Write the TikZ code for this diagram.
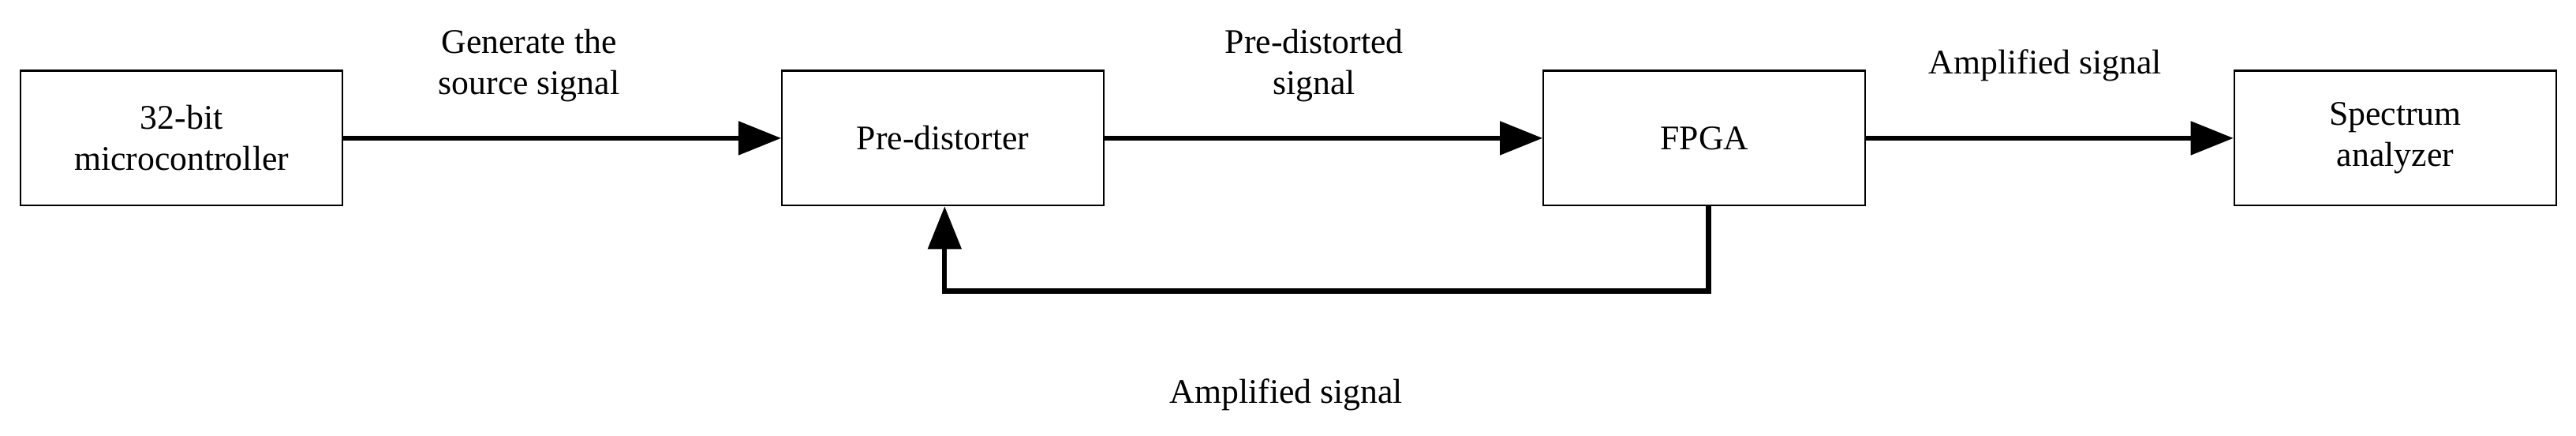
\documentclass[tikz,border=0pt]{standalone}
\usepackage{fontspec}
\setmainfont{Liberation Serif}
\usetikzlibrary{arrows.meta}
\begin{document}
\begin{tikzpicture}[x=1pt,y=-1pt,
  box/.style={draw,line width=1pt,minimum width=196pt,minimum height=82pt,align=center,font=\fontsize{21}{25}\selectfont},
  lab/.style={align=center,font=\fontsize{21}{25}\selectfont},
  arr/.style={line width=3pt,-{Triangle[length=26pt,width=20pt]}}]
\useasboundingbox (0,0) rectangle (1568,265);
\node[box] (a) at (110.5,84) {32-bit\\microcontroller};
\node[box] (b) at (574,84) {Pre-distorter};
\node[box] (c) at (1037.5,84) {FPGA};
\node[box] (d) at (1458,84) {Spectrum\\analyzer};
\draw[arr] (a) -- (b);
\draw[arr] (b) -- (c);
\draw[arr] (c) -- (d);
\coordinate (p1) at (1040,177);
\coordinate (p2) at (575,177);
\draw[arr] (c.south -| p1) -- (p1) -- (p2) -- (b.south -| p2);
\node[lab] (l1) at (322,40) {Generate the\\source signal};
\node[lab] (l2) at (800,40) {Pre-distorted\\signal};
\node[lab] (l3) at (1245,40) {Amplified signal};
\node[lab] (l4) at (783,240) {Amplified signal};
\end{tikzpicture}
\end{document}
